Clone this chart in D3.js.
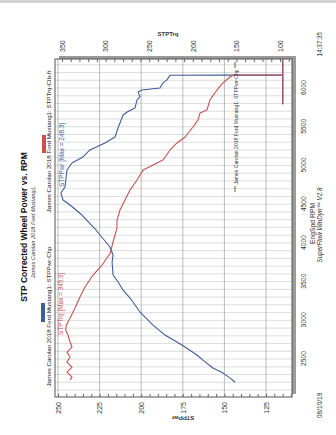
<!DOCTYPE html>
<html>
<head>
<meta charset="utf-8">
<script src="https://cdn.jsdelivr.net/npm/d3@7"></script>
<style>
  body { margin: 0; background: #fff; }
  svg { display: block; }
  text { font-family: "Liberation Sans", Arial, sans-serif; }
</style>
</head>
<body>
<svg id="chart" width="336" height="435"></svg>
<script>
// ---- data ----
const rpmTicks = [2500, 3000, 3500, 4000, 4500, 5000, 5500, 6000];
const pwrTicks = [250, 225, 200, 175, 150, 125];
const trqTicks = [350, 300, 250, 200, 150, 100];

// STPPwr (Chp) vs engine speed
const pwrRpm = [2203, 2254, 2319, 2384, 2487, 2552, 2681, 2810, 2939, 3107, 3288, 3391, 3495, 3585,
  3753, 3844, 3947, 4167, 4360, 4490, 4554, 4645, 4722, 4942, 5032, 5110, 5200, 5291, 5368, 5485,
  5652, 5691, 5743, 5846, 5885, 5950, 5975, 6001, 6066, 6105, 6165, 6170, 6370, 5790];
const pwrHp = [143.6, 146.6, 150.8, 156.9, 162.9, 166.5, 175.5, 185.7, 192.9, 200.7, 206.7, 210.9, 213.9, 216.9,
  217.5, 216.9, 218.8, 227.2, 235.6, 242.8, 247.0, 248.3, 245.8, 244.6, 241.6, 235.0, 230.8, 221.8, 215.7, 213.9,
  210.9, 208.5, 203.7, 202.5, 200.7, 201.9, 199.5, 188.7, 186.9, 184.5, 182.7, 115.0, 115.0, 115.0];

// STPTrq (Clb-ft) vs engine speed
const trqRpm = [2229, 2267, 2332, 2397, 2461, 2526, 2590, 2655, 2720, 2810, 2875, 2939, 3030, 3159,
  3301, 3430, 3585, 3714, 3870, 4012, 4193, 4296, 4425, 4554, 4683, 4813, 4942, 5006, 5071, 5200,
  5291, 5368, 5497, 5588, 5678, 5717, 5846, 5885, 5975, 6066, 6143, 6168, 6170, 6370, 5790];
const trqLbft = [340.8, 338.5, 344.3, 338.5, 344.3, 340.8, 344.3, 338.5, 340.8, 343.1, 345.9, 345.0, 340.8, 335.1,
  329.4, 323.6, 314.4, 304.1, 294.5, 291.5, 286.9, 286.9, 283.5, 277.8, 272.0, 264.0, 257.1, 245.6, 234.2, 226.1,
  218.1, 208.9, 199.8, 194.0, 191.7, 183.7, 180.3, 178.0, 172.2, 165.4, 157.3, 153.9, 96.6, 96.6, 96.6];

const pwrMax = 248.3;
const trqMax = 345.9;
const runName = "James Carolan 2018 Ford Mustang1";

// ---- layout (the chart is laid out landscape, then turned a quarter turn) ----
const svg = d3.select("#chart");
svg.append("rect").attr("width", 336).attr("height", 435).attr("fill", "#fff");
svg.append("rect").attr("width", 336).attr("height", 3).attr("fill", "#d2d2d2");

const g = svg.append("g").attr("transform", "translate(0,435) rotate(-90)");

const plot = { x0: 38, x1: 376, y0: 55, y1: 292 };
const x = d3.scaleLinear().domain([2010, 6375]).range([plot.x0, plot.x1]);
const yP = d3.scaleLinear().domain([250, 125]).range([58, 266]);
const yT = d3.scaleLinear().domain([350, 100]).range([62, 280]);

const RED = "#c8504e", BLUE = "#3d5d9c";

// frame with drop shadow
g.append("rect")
  .attr("x", plot.x0 + 3).attr("y", plot.y0 + 4)
  .attr("width", plot.x1 - plot.x0).attr("height", plot.y1 - plot.y0)
  .attr("fill", "#9a9a9a");
g.append("rect")
  .attr("x", plot.x0).attr("y", plot.y0)
  .attr("width", plot.x1 - plot.x0).attr("height", plot.y1 - plot.y0)
  .attr("fill", "#fff");

// grid: every 100 rpm, and at each power tick
g.append("g").selectAll("line")
  .data(d3.range(2100, 6376, 100))
  .join("line")
  .attr("x1", d => x(d)).attr("x2", d => x(d))
  .attr("y1", plot.y0).attr("y2", plot.y1)
  .attr("stroke", "#d4d4d4").attr("stroke-width", 0.8);
g.append("g").selectAll("line")
  .data(pwrTicks)
  .join("line")
  .attr("x1", plot.x0).attr("x2", plot.x1)
  .attr("y1", d => yP(d)).attr("y2", d => yP(d))
  .attr("stroke", "#a9a9a9").attr("stroke-width", 0.8);

g.append("rect")
  .attr("x", plot.x0).attr("y", plot.y0)
  .attr("width", plot.x1 - plot.x0).attr("height", plot.y1 - plot.y0)
  .attr("fill", "none").attr("stroke", "#555").attr("stroke-width", 1);

// axes
function styleAxis(sel, size) {
  sel.select(".domain").remove();
  sel.attr("font-family", null).attr("font-size", null);
  sel.selectAll("text").attr("font-size", size).attr("fill", "#333");
  sel.selectAll("line").attr("stroke", "#666");
}
g.append("g").attr("transform", `translate(${plot.x0},0)`)
  .call(d3.axisLeft(yP).tickValues(d3.range(110, 251, 5)).tickSize(-3).tickFormat(""))
  .call(s => styleAxis(s, 7));
g.append("g").attr("transform", `translate(${plot.x0},0)`)
  .call(d3.axisLeft(yP).tickValues(pwrTicks).tickSize(0).tickPadding(5))
  .call(s => styleAxis(s, 7));
g.append("g").attr("transform", `translate(${plot.x1},0)`)
  .call(d3.axisRight(yT).tickValues(d3.range(90, 351, 10)).tickSize(-3).tickFormat(""))
  .call(s => styleAxis(s, 7));
g.append("g").attr("transform", `translate(${plot.x1},0)`)
  .call(d3.axisRight(yT).tickValues(trqTicks).tickSize(0).tickPadding(7))
  .call(s => styleAxis(s, 7));
g.append("g").attr("transform", `translate(0,${plot.y1})`)
  .call(d3.axisBottom(x).tickValues(rpmTicks).tickSize(0).tickPadding(9).tickFormat(d3.format("d")))
  .call(s => styleAxis(s, 6.8));

// curves
g.append("clipPath").attr("id", "plotClip")
  .append("rect")
  .attr("x", plot.x0).attr("y", plot.y0)
  .attr("width", plot.x1 - plot.x0).attr("height", plot.y1 - plot.y0);

const pwrData = pwrRpm.map((r, i) => ({ rpm: r, v: pwrHp[i] }));
const trqData = trqRpm.map((r, i) => ({ rpm: r, v: trqLbft[i] }));

const curves = g.append("g").attr("clip-path", "url(#plotClip)");
curves.append("path")
  .attr("d", d3.line().x(d => x(d.rpm)).y(d => yP(d.v))(pwrData))
  .attr("fill", "none").attr("stroke", BLUE).attr("stroke-width", 1.1)
  .attr("stroke-linejoin", "round");
curves.append("path")
  .attr("d", d3.line().x(d => x(d.rpm)).y(d => yT(d.v))(trqData))
  .attr("fill", "none").attr("stroke", RED).attr("stroke-width", 1.1)
  .attr("stroke-linejoin", "round");

// text helper
function label(xp, yp, str, opts = {}) {
  const t = g.append("text")
    .attr("x", xp).attr("y", yp)
    .attr("font-size", opts.size || 6)
    .attr("fill", opts.fill || "#222")
    .attr("text-anchor", opts.anchor || "middle")
    .text(str);
  if (opts.weight) t.attr("font-weight", opts.weight);
  if (opts.style) t.attr("font-style", opts.style);
  if (opts.rotate) t.attr("transform", `rotate(${opts.rotate},${xp},${yp})`);
  return t;
}

// titles
label(208, 27, "STP Corrected Wheel Power vs. RPM", { size: 8.5, weight: "bold", fill: "#111" });
label(203, 34.5, runName + ",", { size: 5.6, style: "italic", fill: "#333" });

// legend
g.append("rect").attr("x", 113).attr("y", 41).attr("width", 19).attr("height", 4).attr("fill", BLUE);
g.append("rect").attr("x", 282).attr("y", 42).attr("width", 18).attr("height", 4).attr("fill", RED);
label(118.5, 51, runName + ": STPPwr-Chp", { size: 6.2, fill: "#222" });
label(293.5, 51, runName + ": STPTrq-Clb-ft", { size: 6.2, fill: "#222" });

// peak annotations
label(100, 62.8, `STPTrq [Max = ${trqMax.toFixed(1)}]`, { size: 6.4, anchor: "start", fill: RED });
label(248, 64, `STPPwr [Max = ${pwrMax.toFixed(1)}]`, { size: 6.4, anchor: "start", fill: BLUE });
label(373, 237.5, "*** " + runName + ": STPPwr-Chp ***", { size: 5.1, anchor: "end", fill: "#333" });

// axis titles
label(19, 183, "STPPwr", { size: 6, weight: "bold", rotate: -90, fill: "#333" });
label(399, 168, "STPTrq", { size: 6, weight: "bold", rotate: 90, fill: "#333" });
label(211.5, 315, "EngSpd  RPM", { size: 6.8, fill: "#333" });

// footer
label(210, 322, "SuperFlow WinDyn\u2122 V2.8", { size: 6.3, style: "italic", fill: "#333" });
label(17, 322, "08/10/19", { size: 6.5, anchor: "start", fill: "#333" });
label(403, 322, "14:37:35", { size: 6.3, anchor: "end", fill: "#333" });
</script>
</body>
</html>
